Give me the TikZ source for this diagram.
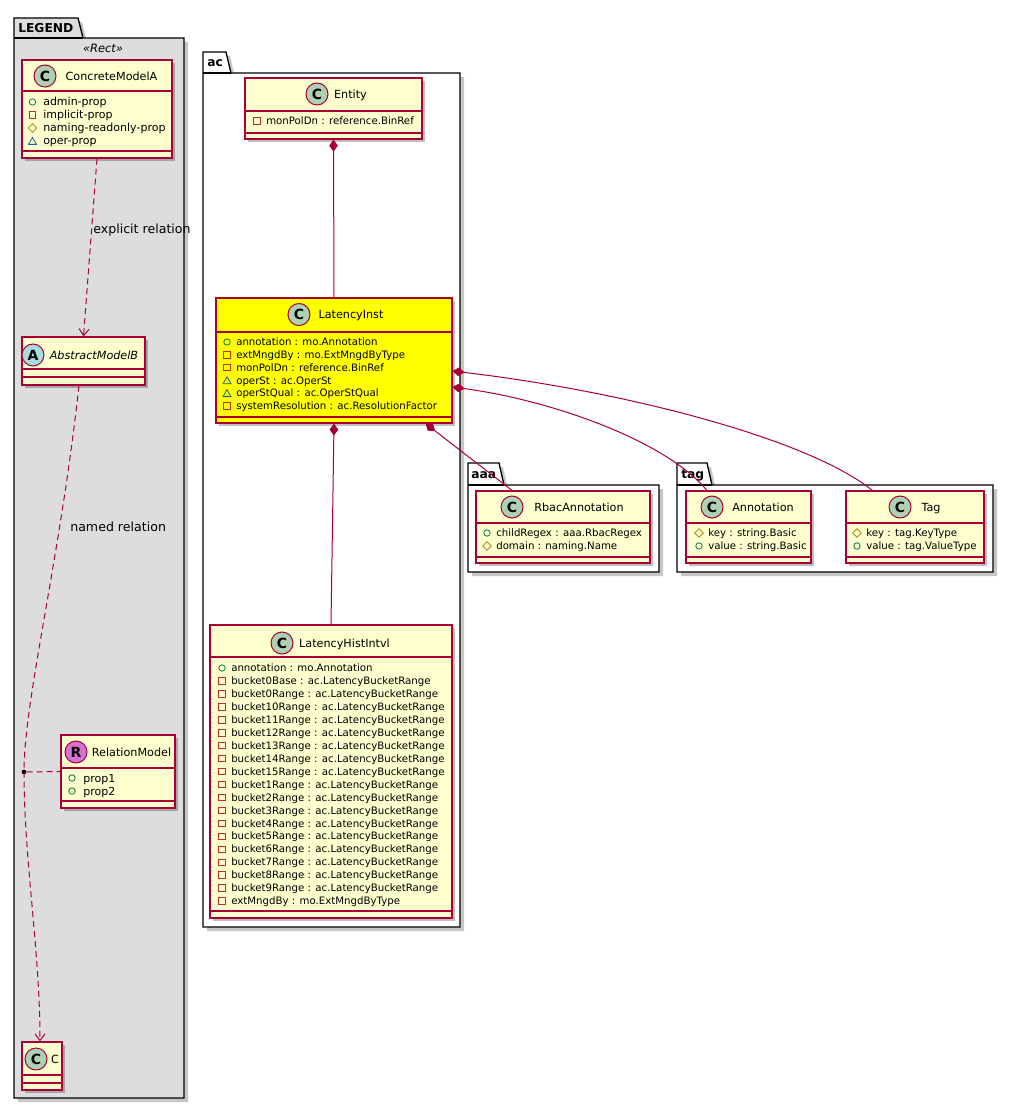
\documentclass[tikz,border=0pt]{standalone}
\usepackage{fontspec}
\setmainfont{DejaVu Sans}
\usetikzlibrary{arrows.meta,shapes.geometric,shadows,fit}
\definecolor{umlborder}{HTML}{A80036}
\definecolor{umlfill}{HTML}{FEFECE}
\definecolor{hlfill}{HTML}{FFFF00}
\definecolor{spotC}{HTML}{ADD1B2}
\definecolor{spotA}{HTML}{A9DCDF}
\definecolor{spotR}{HTML}{DA70D6}
\definecolor{pubgreen}{HTML}{038048}
\definecolor{privred}{HTML}{C82930}
\definecolor{protgold}{HTML}{B38D22}
\definecolor{pkgblue}{HTML}{1963A0}
\definecolor{legendgray}{HTML}{DDDDDD}
\tikzset{
  clsbox/.style={rectangle, draw=umlborder, line width=0.9pt, inner sep=0pt,
    drop shadow={shadow xshift=2.6pt, shadow yshift=-2.6pt, opacity=0.25, fill=black}},
  clsline/.style={draw=umlborder, line width=0.9pt},
  spot/.style={circle, draw=umlborder, line width=0.75pt, minimum size=16.5pt, inner sep=0pt,
    font=\bfseries\fontsize{10.5}{11}\selectfont, text height=7.6pt, text depth=0pt},
  clsname/.style={inner sep=0pt, font=\fontsize{8.4}{10}\selectfont, text height=6.1pt, text depth=0pt},
  attrtext/.style={anchor=west, inner sep=0pt, font=\fontsize{7.65}{9}\selectfont, text height=5.6pt, text depth=0pt},
  legattr/.style={anchor=west, inner sep=0pt, font=\fontsize{8.25}{10}\selectfont, text height=6pt, text depth=0pt},
  iconpub/.style={circle, draw=pubgreen, line width=0.6pt, minimum size=4.8pt, inner sep=0pt},
  iconpriv/.style={rectangle, draw=privred, line width=0.6pt, minimum size=4.8pt, inner sep=0pt},
  iconprot/.style={diamond, draw=protgold, line width=0.6pt, minimum size=6.6pt, inner sep=0pt},
  iconpkg/.style={regular polygon, regular polygon sides=3, draw=pkgblue, line width=0.6pt, minimum size=7pt, inner sep=0pt, yshift=-0.8pt},
  pkgline/.style={draw=black, line width=1pt},
  pkgshadow/.style={fill=black, opacity=0.22},
  pkglabel/.style={anchor=west, inner sep=0pt, font=\bfseries\fontsize{9.2}{11}\selectfont, text height=6.7pt, text depth=0pt},
  edgelabel/.style={anchor=west, inner sep=0pt, font=\fontsize{9.45}{11}\selectfont, text height=6.9pt, text depth=0pt},
  rel/.style={draw=umlborder, line width=0.75pt},
  dashrel/.style={rel, dash pattern=on 4.5pt off 3pt},
  openarr/.style={arrows={-Straight Barb[length=5pt,width=7.5pt]}},
  comp/.style={rel, arrows={Diamond[length=9pt,width=6.5pt]-}}
}
\newcommand{\umlcls}[8]{%
  \node[clsbox, fill=#8, fit={(#2,#3)(#4,#5)}] (#1) {};
  \draw[clsline] (#2,#6) -- (#4,#6);
  \draw[clsline] (#2,#7) -- (#4,#7);
}
\newcommand{\umlpkg}[7]{%
  \fill[pkgshadow, shift={(4,4)}] (#1,#4) -- (#1,#2) -- (#3,#2) -- ({#3+5},#4) -- (#5,#4) -- (#5,#6) -- (#1,#6) -- cycle;
  \draw[pkgline, fill=#7] (#1,#4) -- (#1,#2) -- (#3,#2) -- ({#3+5},#4) -- (#5,#4) -- (#5,#6) -- (#1,#6) -- cycle;
  \draw[pkgline] (#1,#4) -- ({#3+5},#4);
}
\newcommand{\attr}[6]{%
  \node[icon#5] (#1i) at (#2,{#4}) {};
  \node[attrtext] (#1) at (#3,{#4}) {#6};
}
\newcommand{\legattr}[6]{%
  \node[icon#5] (#1i) at (#2,{#4}) {};
  \node[legattr] (#1) at (#3,{#4}) {#6};
}
\begin{document}
\begin{tikzpicture}[x=0.75pt,y=-0.75pt]
\useasboundingbox (0,0) rectangle (1013,1109);

% ---------- packages ----------
\umlpkg{14}{18}{78}{38}{184}{1098}{legendgray}
\node[pkglabel] (pkgLegend) at (18,28) {LEGEND};
\node[inner sep=0pt, font=\itshape\fontsize{8.6}{10}\selectfont] (stereo) at (103,48) {«Rect»};

\umlpkg{203}{52}{226}{73}{460}{927}{white}
\node[pkglabel] (pkgAc) at (207,62.5) {ac};

\umlpkg{468}{463}{499}{485}{659}{572}{white}
\node[pkglabel] (pkgAaa) at (471,474) {aaa};

\umlpkg{677}{463}{707}{485}{993}{572}{white}
\node[pkglabel] (pkgTag) at (681,474) {tag};

% ---------- legend classes ----------
\umlcls{cma}{22}{60}{172}{158}{91}{151}{umlfill}
\node[spot, fill=spotC] (cmaS) at (45,76) {C};
\node[clsname] (cmaN) at (111.5,76) {ConcreteModelA};
\legattr{cma1}{32.5}{43}{102}{pub}{admin-prop}
\legattr{cma2}{32.5}{43}{115}{priv}{implicit-prop}
\legattr{cma3}{32.5}{43}{128}{prot}{naming-readonly-prop}
\legattr{cma4}{32.5}{43}{141}{pkg}{oper-prop}

\umlcls{absb}{22}{337}{145}{385}{369}{377}{umlfill}
\node[spot, fill=spotA] (absbS) at (33,355) {A};
\node[clsname, font=\itshape\fontsize{8.4}{10}\selectfont] (absbN) at (94,355) {AbstractModelB};

\umlcls{relm}{61}{735}{175}{808}{768}{801}{umlfill}
\node[spot, fill=spotR] (relmS) at (76,752) {R};
\node[clsname] (relmN) at (131.5,752) {RelationModel};
\legattr{relm1}{72}{83}{778}{pub}{prop1}
\legattr{relm2}{72}{83}{791}{pub}{prop2}

\umlcls{clsc}{22}{1042}{62}{1090}{1075}{1083}{umlfill}
\node[spot, fill=spotC] (clscS) at (36,1059) {C};
\node[clsname] (clscN) at (55,1059) {C};

% ---------- ac classes ----------
\umlcls{ent}{245}{78}{422}{139}{111}{133}{umlfill}
\node[spot, fill=spotC] (entS) at (317,94) {C};
\node[clsname] (entN) at (350.5,94) {Entity};
\attr{ent1}{257}{266}{121}{priv}{monPolDn : reference.BinRef}

\umlcls{li}{216}{298}{452}{423}{332}{417}{hlfill}
\node[spot, fill=spotC] (liS) at (299,314.5) {C};
\node[clsname] (liN) at (351,314.5) {LatencyInst};
\attr{li1}{227}{236}{342}{pub}{annotation : mo.Annotation}
\attr{li2}{227}{236}{354.8}{priv}{extMngdBy : mo.ExtMngdByType}
\attr{li3}{227}{236}{367.6}{priv}{monPolDn : reference.BinRef}
\attr{li4}{227}{236}{380.4}{pkg}{operSt : ac.OperSt}
\attr{li5}{227}{236}{393.2}{pkg}{operStQual : ac.OperStQual}
\attr{li6}{227}{236}{406}{priv}{systemResolution : ac.ResolutionFactor}

\umlcls{lhi}{210}{625}{452}{918}{657}{911}{umlfill}
\node[spot, fill=spotC] (lhiS) at (282,643) {C};
\node[clsname] (lhiN) at (344.5,643) {LatencyHistIntvl};
\attr{lha}{222}{231}{668}{pub}{annotation : mo.Annotation}
\foreach \b [count=\k] in {bucket0Base,bucket0Range,bucket10Range,bucket11Range,bucket12Range,bucket13Range,bucket14Range,bucket15Range,bucket1Range,bucket2Range,bucket3Range,bucket4Range,bucket5Range,bucket6Range,bucket7Range,bucket8Range,bucket9Range}{
  \attr{lhb\k}{222}{231}{668+12.94*\k}{priv}{\b\ : ac.LatencyBucketRange}
}
\attr{lhz}{222}{231}{901}{priv}{extMngdBy : mo.ExtMngdByType}

% ---------- aaa / tag classes ----------
\umlcls{rbac}{476}{491}{650}{563}{523}{557}{umlfill}
\node[spot, fill=spotC] (rbacS) at (512,507) {C};
\node[clsname] (rbacN) at (579,507) {RbacAnnotation};
\attr{rbac1}{487}{496}{533}{pub}{childRegex : aaa.RbacRegex}
\attr{rbac2}{487}{496}{546}{prot}{domain : naming.Name}

\umlcls{ann}{686}{491}{811}{563}{523}{557}{umlfill}
\node[spot, fill=spotC] (annS) at (712,507) {C};
\node[clsname] (annN) at (763,507) {Annotation};
\attr{ann1}{699}{708}{533}{prot}{key : string.Basic}
\attr{ann2}{699}{708}{546}{pub}{value : string.Basic}

\umlcls{tag}{846}{491}{984}{563}{523}{557}{umlfill}
\node[spot, fill=spotC] (tagS) at (900,507) {C};
\node[clsname] (tagN) at (931,507) {Tag};
\attr{tag1}{857}{866}{533}{prot}{key : tag.KeyType}
\attr{tag2}{857}{866}{546}{pub}{value : tag.ValueType}

% ---------- legend connectors ----------
\draw[dashrel, openarr] (cma.south) -- (absb.north);
\node[edgelabel] (lblExplicit) at (93,229) {explicit relation};

\node[circle, fill=black, inner sep=0pt, minimum size=3.5pt] (reldot) at (24,772) {};
\draw[dashrel, openarr] ([xshift=-3.4pt]absb.south) .. controls (60,560) and (24,700) .. (reldot.center)
   .. controls (24,860) and (40,950) .. ([xshift=-1.5pt]clsc.north);
\draw[dashrel] (reldot) -- (relm.west);
\node[edgelabel] (lblNamed) at (70,527) {named relation};

% ---------- composition connectors ----------
\draw[comp] (ent.south) -- (li.north);
\draw[comp] (li.south) -- (lhi.north);
\draw[comp] ([xshift=-20.25pt]li.south east) -- (rbac.north -| rbacS);
\draw[comp] ([yshift=-19.9pt]li.east) .. controls (550,400) and (665,440) .. ([xshift=-3.8pt]ann.north -| annS);
\draw[comp] ([yshift=-7.9pt]li.east) .. controls (630,392) and (810,440) .. ([xshift=-32pt]tag.north);

\end{tikzpicture}
\end{document}
